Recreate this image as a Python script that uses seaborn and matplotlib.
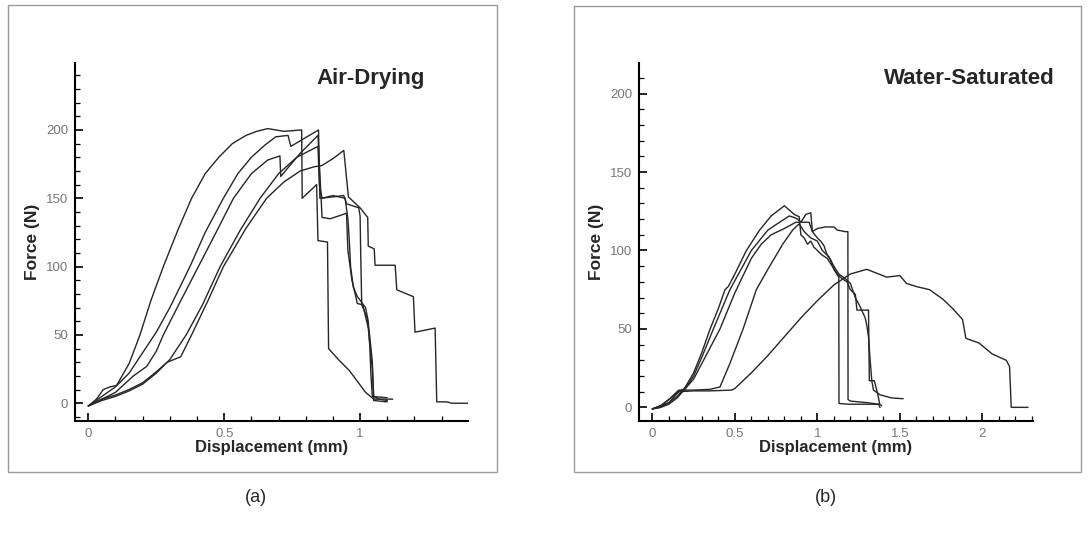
import numpy as np
import pandas as pd
import matplotlib
matplotlib.use("Agg")
import matplotlib.pyplot as plt
from matplotlib.patches import Rectangle
from matplotlib.ticker import MultipleLocator, FixedLocator
import seaborn as sns

# ---- data: displacement (mm) / force (N) ----
# (a) air-drying specimens
air1_disp = [0, 0.03, 0.055, 0.08, 0.104, 0.15, 0.19, 0.23, 0.276, 0.33, 0.38, 0.43, 0.48, 0.53, 0.58, 0.62, 0.66, 0.72, 0.785,
             0.787, 0.84, 0.845, 0.88, 0.884, 0.92, 0.96, 0.99, 1.02, 1.05, 1.12]
air1_force = [-2, 3, 10, 12, 13, 29, 50, 75, 100, 127, 150, 168, 180, 190, 196, 199, 201, 199, 200,
              150, 160, 119, 118, 40, 32, 24, 16, 8, 3, 3]

air2_disp = [0, 0.05, 0.1, 0.15, 0.2, 0.25, 0.3, 0.374, 0.43, 0.497, 0.55, 0.6, 0.65, 0.69, 0.735, 0.745, 0.847,
             0.852, 0.9, 0.94, 0.95, 0.995, 1.0, 1.002, 1.006, 1.025, 1.035, 1.045, 1.05, 1.07, 1.1]
air2_force = [-2, 5, 12, 22, 37, 52, 70, 100, 125, 150, 168, 180, 189, 195, 196, 188, 200,
              150, 151, 152, 146, 143, 137, 112, 72, 63, 50, 30, 5, 3, 2]

air3_disp = [0, 0.05, 0.1, 0.166, 0.215, 0.25, 0.276, 0.34, 0.405, 0.47, 0.534, 0.6, 0.66, 0.705, 0.708, 0.78, 0.845,
             0.86, 0.89, 0.95, 0.955, 0.97, 0.99, 1.01, 1.03, 1.045, 1.05, 1.1]
air3_force = [-2, 3, 8, 20, 27, 38, 50, 75, 100, 125, 150, 168, 178, 181, 166, 183, 196,
              136, 135, 139, 112, 90, 73, 72, 55, 25, 2, 1]

air4_disp = [0, 0.05, 0.1, 0.15, 0.2, 0.25, 0.3, 0.36, 0.42, 0.485, 0.56, 0.632, 0.7, 0.767, 0.845,
             0.85, 0.86, 0.9, 0.945, 0.955, 0.96, 0.965, 0.975, 0.99, 1.02, 1.03, 1.036, 1.04, 1.045, 1.1]
air4_force = [-2, 2, 5, 9, 14, 22, 32, 50, 72, 100, 127, 150, 168, 180, 188,
              160, 150, 152, 150, 135, 120, 100, 85, 78, 70, 60, 40, 20, 5, 4]

air5_disp = [0, 0.05, 0.1, 0.15, 0.2, 0.25, 0.29, 0.34, 0.38, 0.44, 0.497, 0.58, 0.656, 0.72, 0.78, 0.83, 0.86, 0.9, 0.94,
             0.957, 1.0, 1.028, 1.03, 1.052, 1.055, 1.129, 1.135, 1.196, 1.202, 1.276, 1.282, 1.319, 1.337, 1.4]
air5_force = [-2, 3, 6, 10, 15, 23, 30, 34, 50, 75, 100, 128, 150, 162, 170, 173, 174, 179, 185,
              151, 143, 136, 115, 113, 101, 101, 83, 78, 52, 55, 1, 1, 0, 0]

# (b) water-saturated specimens
wat1_disp = [0, 0.05, 0.1, 0.15, 0.2, 0.25, 0.3, 0.35, 0.4, 0.44, 0.46, 0.5, 0.57, 0.65, 0.72, 0.8,
             0.86, 0.89, 0.9, 0.92, 0.94, 0.96, 0.98, 1.0, 1.03, 1.06, 1.09, 1.12, 1.15, 1.18, 1.2, 1.23, 1.24,
             1.31, 1.315, 1.345, 1.367, 1.378, 1.39]
wat1_force = [-1, 1, 3, 7, 13, 22, 35, 50, 63, 75, 77, 85, 100, 113, 122, 128.5,
              123, 121.5, 110, 108, 104, 106, 102, 100, 97, 95, 90, 85, 82, 80, 75, 72, 62,
              62, 17, 17, 8, 2, 1]

wat2_disp = [0, 0.05, 0.1, 0.15, 0.2, 0.25, 0.3, 0.37, 0.47, 0.6, 0.7, 0.8, 0.83,
             0.86, 0.88, 0.9, 0.93, 0.96, 0.97, 1.0, 1.02, 1.04, 1.06, 1.08, 1.1, 1.13, 1.131, 1.186, 1.25, 1.37, 1.38]
wat2_force = [-1, 0, 2, 6, 12, 20, 32, 50, 75, 100, 113, 120, 122,
              121, 120, 118, 123, 124, 112, 108, 106, 103, 97, 94, 88, 83, 2.5, 2, 2, 2, 0]

wat3_disp = [0, 0.05, 0.1, 0.16, 0.2, 0.25, 0.3, 0.41, 0.5, 0.6, 0.66, 0.72, 0.8, 0.87,
             0.9, 0.95, 0.97, 1.0, 1.05, 1.1, 1.12, 1.17, 1.185, 1.186, 1.2, 1.3, 1.37]
wat3_force = [-1, 0, 3, 10, 12, 18, 28, 50, 73, 95, 104, 110, 114, 118,
              118, 118, 112, 114, 115, 115, 113, 112, 112, 5, 4, 3, 2]

wat4_disp = [0, 0.05, 0.1, 0.16, 0.25, 0.35, 0.41, 0.47, 0.55, 0.63, 0.7, 0.79, 0.85, 0.89,
             0.92, 0.96, 1.0, 1.03, 1.07, 1.1, 1.13, 1.17, 1.2, 1.23, 1.26, 1.29, 1.3, 1.31, 1.32, 1.33, 1.34,
             1.38, 1.45, 1.52]
wat4_force = [-1, 1, 5, 11, 11, 11.5, 13, 28, 50, 75, 88, 104, 113, 117,
              112, 108, 106, 100, 96, 90, 85, 82, 79, 70, 64, 57, 52, 45, 30, 17, 11,
              8, 6, 5.5]

wat5_disp = [0, 0.05, 0.1, 0.16, 0.25, 0.35, 0.48, 0.5, 0.6, 0.7, 0.8, 0.9, 1.0, 1.1, 1.2, 1.3, 1.42, 1.5,
             1.54, 1.6, 1.68, 1.76, 1.82, 1.88, 1.9, 1.98, 2.06, 2.145, 2.165, 2.175, 2.277]
wat5_force = [-1, 1, 5, 10, 10.5, 10.5, 11, 12, 22, 33, 45, 57, 68, 78, 85, 88, 83, 84,
              79, 77, 75, 69, 63, 56, 44, 41, 34, 30, 26, 0, 0]

air_curves = [(air1_disp, air1_force), (air2_disp, air2_force), (air3_disp, air3_force),
              (air4_disp, air4_force), (air5_disp, air5_force)]
wat_curves = [(wat1_disp, wat1_force), (wat2_disp, wat2_force), (wat3_disp, wat3_force),
              (wat4_disp, wat4_force), (wat5_disp, wat5_force)]

sns.set_style("white")
plt.rcParams["font.family"] = ["Liberation Sans", "DejaVu Sans"]

fig = plt.figure(figsize=(10.89, 5.35), dpi=100)

# gray frames around each panel
fig.patches.append(Rectangle((8 / 1089, 1 - 472 / 535), 489 / 1089, 467 / 535, transform=fig.transFigure,
                             fill=False, edgecolor="#9a9a9a", lw=1.0))
fig.patches.append(Rectangle((574 / 1089, 1 - 472 / 535), 507 / 1089, 466 / 535, transform=fig.transFigure,
                             fill=False, edgecolor="#9a9a9a", lw=1.0))

ax1 = fig.add_axes([75 / 1089, 1 - 421 / 535, 393 / 1089, 358 / 535])
ax2 = fig.add_axes([639 / 1089, 1 - 421 / 535, 394 / 1089, 358 / 535])


def draw_panel(ax, curves, xlim, ylim, xmajor, title, title_x):
    for d, f in curves:
        df = pd.DataFrame({"disp": d, "force": f})
        sns.lineplot(data=df, x="disp", y="force", sort=False, estimator=None,
                     color="#262626", lw=1.0, ax=ax)
    ax.set_xlim(*xlim)
    ax.set_ylim(*ylim)
    for s in ["top", "right"]:
        ax.spines[s].set_visible(False)
    for s in ["left", "bottom"]:
        ax.spines[s].set_color("black")
        ax.spines[s].set_linewidth(1.5)
    ax.xaxis.set_major_locator(FixedLocator(xmajor))
    ax.xaxis.set_minor_locator(MultipleLocator(0.1))
    ax.yaxis.set_major_locator(MultipleLocator(50))
    ax.yaxis.set_minor_locator(MultipleLocator(10))
    ax.set_xticklabels([("%g" % v) for v in xmajor])
    ax.tick_params(which="both", direction="in", colors="black", labelcolor="#777777",
                   labelsize=9.5, bottom=True, left=True)
    ax.tick_params(which="major", length=5.5, width=1.2, pad=5)
    ax.tick_params(which="minor", length=3.5, width=0.9)
    ax.set_xlabel("Displacement (mm)", fontsize=12, fontweight="bold", labelpad=0)
    ax.set_ylabel("Force (N)", fontsize=12.5, fontweight="bold", labelpad=4)
    ax.text(title_x, 0.958, title, transform=ax.transAxes, ha="center", va="center",
            fontsize=16, fontweight="bold")
    ax.grid(False)


draw_panel(ax1, air_curves, (-0.049, 1.397), (-13, 249), [0, 0.5, 1], "Air-Drying", 0.753)
draw_panel(ax2, wat_curves, (-0.081, 2.307), (-8.7, 219.5), [0, 0.5, 1, 1.5, 2], "Water-Saturated", 0.839)

fig.text(256 / 1089, 1 - 497 / 535, "(a)", ha="center", va="center", fontsize=13)
fig.text(826 / 1089, 1 - 497 / 535, "(b)", ha="center", va="center", fontsize=13)

fig.savefig("out.png", dpi=100)
